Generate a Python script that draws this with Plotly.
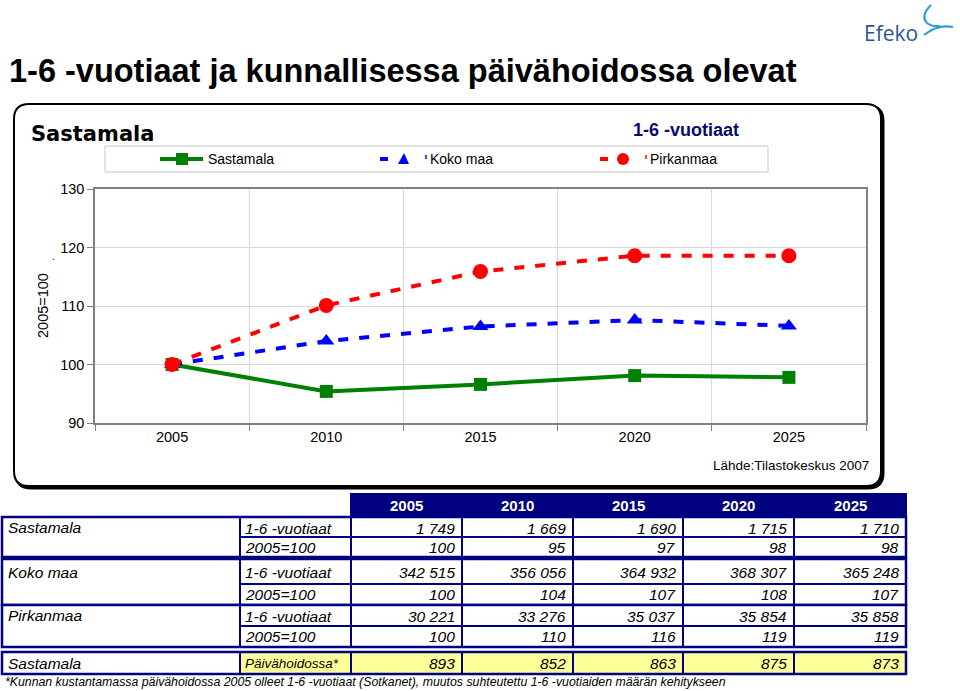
import plotly.graph_objects as go

# ---------------- data ----------------
years = ["2005", "2010", "2015", "2020", "2025"]
sastamala_idx = [100, 95.4, 96.6, 98.1, 97.8]
koko_idx = [100, 104.0, 106.5, 107.6, 106.6]
pirkanmaa_idx = [100, 110.1, 115.9, 118.6, 118.6]

sastamala_n = [1749, 1669, 1690, 1715, 1710]
sastamala_tab = [100, 95, 97, 98, 98]
koko_n = [342515, 356056, 364932, 368307, 365248]
koko_tab = [100, 104, 107, 108, 107]
pirk_n = [30221, 33276, 35037, 35854, 35858]
pirk_tab = [100, 110, 116, 119, 119]
paiva_n = [893, 852, 863, 875, 873]

series_names = ["Sastamala", "Koko maa", "Pirkanmaa"]
y_ticks = [90, 100, 110, 120, 130]

W, H = 960, 691
FONT = "Liberation Sans, Arial, sans-serif"


def px(x):
    return x / W


def py(y):
    return 1 - y / H


def fmt(v):
    return f"{v:,}".replace(",", " ")


fig = go.Figure()

GREEN, BLUE, RED = "#008000", "#0000FF", "#FF0000"

fig.add_trace(go.Scatter(x=years, y=sastamala_idx, name=series_names[0], mode="lines+markers",
                         line=dict(color=GREEN, width=4),
                         marker=dict(symbol="square", size=13, color=GREEN)))
fig.add_trace(go.Scatter(x=years, y=koko_idx, name=series_names[1], mode="lines+markers",
                         line=dict(color=BLUE, width=4, dash="10px,11px"),
                         marker=dict(symbol="triangle-up", size=14, color=BLUE)))
fig.add_trace(go.Scatter(x=years, y=pirkanmaa_idx, name=series_names[2], mode="lines+markers",
                         line=dict(color=RED, width=4, dash="10px,11px"),
                         marker=dict(symbol="circle", size=15, color=RED)))

shapes = []
ann = []


def rounded_path(x0, y0, x1, y1, r):
    pts = [
        f"M {px(x0 + r)},{py(y0)}",
        f"L {px(x1 - r)},{py(y0)}",
        f"Q {px(x1)},{py(y0)} {px(x1)},{py(y0 + r)}",
        f"L {px(x1)},{py(y1 - r)}",
        f"Q {px(x1)},{py(y1)} {px(x1 - r)},{py(y1)}",
        f"L {px(x0 + r)},{py(y1)}",
        f"Q {px(x0)},{py(y1)} {px(x0)},{py(y1 - r)}",
        f"L {px(x0)},{py(y0 + r)}",
        f"Q {px(x0)},{py(y0)} {px(x0 + r)},{py(y0)}",
        "Z",
    ]
    return " ".join(pts)


# chart frame with shadow
shapes.append(dict(type="path", xref="paper", yref="paper", layer="below",
                   path=rounded_path(16, 106, 883, 488, 15),
                   line=dict(color="black", width=3), fillcolor="black"))
shapes.append(dict(type="path", xref="paper", yref="paper", layer="below",
                   path=rounded_path(14, 104, 881, 486, 15),
                   line=dict(color="black", width=2), fillcolor="white"))

# legend box
shapes.append(dict(type="rect", xref="paper", yref="paper",
                   x0=px(105), x1=px(768), y0=py(146), y1=py(172),
                   line=dict(color="#c8c8c8", width=1), fillcolor="rgba(0,0,0,0)"))
ly = 159
# Sastamala
shapes.append(dict(type="line", xref="paper", yref="paper", x0=px(160), x1=px(203), y0=py(ly), y1=py(ly),
                   line=dict(color=GREEN, width=4)))
shapes.append(dict(type="rect", xref="paper", yref="paper", x0=px(176), x1=px(188), y0=py(ly - 6), y1=py(ly + 6),
                   line=dict(color=GREEN, width=0), fillcolor=GREEN))
# Koko maa
shapes.append(dict(type="line", xref="paper", yref="paper", x0=px(380), x1=px(388), y0=py(ly), y1=py(ly),
                   line=dict(color=BLUE, width=4)))
shapes.append(dict(type="path", xref="paper", yref="paper",
                   path=f"M {px(398)},{py(ly + 5)} L {px(404)},{py(ly - 6)} L {px(409)},{py(ly + 5)} Z",
                   line=dict(color=BLUE, width=0), fillcolor=BLUE))
shapes.append(dict(type="line", xref="paper", yref="paper", x0=px(426), x1=px(426), y0=py(ly - 4), y1=py(ly),
                   line=dict(color=BLUE, width=1.5)))
# Pirkanmaa
shapes.append(dict(type="line", xref="paper", yref="paper", x0=px(600), x1=px(608), y0=py(ly), y1=py(ly),
                   line=dict(color=RED, width=4)))
shapes.append(dict(type="circle", xref="paper", yref="paper", x0=px(617), x1=px(629), y0=py(ly - 6), y1=py(ly + 6),
                   line=dict(color=RED, width=0), fillcolor=RED))
shapes.append(dict(type="line", xref="paper", yref="paper", x0=px(646), x1=px(646), y0=py(ly - 4), y1=py(ly),
                   line=dict(color=RED, width=1.5)))

for xx, txt in [(206, series_names[0]), (428, series_names[1]), (648, series_names[2])]:
    ann.append(dict(x=px(xx), y=py(ly), xref="paper", yref="paper", text=txt, showarrow=False,
                    xanchor="left", yanchor="middle", font=dict(family=FONT, size=14, color="black")))

# titles
ann.append(dict(x=px(7), y=py(71), xref="paper", yref="paper",
                text="<b>1-6 -vuotiaat ja kunnallisessa päivähoidossa olevat</b>", showarrow=False,
                xanchor="left", yanchor="middle", font=dict(family=FONT, size=32.5, color="black")))
ann.append(dict(x=px(29), y=py(134), xref="paper", yref="paper",
                text="<b>Sastamala</b>", showarrow=False,
                xanchor="left", yanchor="middle", font=dict(family="DejaVu Sans, sans-serif", size=21, color="black")))
ann.append(dict(x=px(686), y=py(130), xref="paper", yref="paper",
                text="<b>1-6 -vuotiaat</b>", showarrow=False,
                xanchor="center", yanchor="middle", font=dict(family=FONT, size=18, color="#0a0a6e")))
ann.append(dict(x=px(871), y=py(465), xref="paper", yref="paper",
                text="Lähde:Tilastokeskus 2007", showarrow=False,
                xanchor="right", yanchor="middle", font=dict(family=FONT, size=13.5, color="black")))
ann.append(dict(x=px(43), y=py(306), xref="paper", yref="paper", textangle=-90,
                text="2005=100", showarrow=False,
                xanchor="center", yanchor="middle", font=dict(family=FONT, size=14.5, color="black")))
ann.append(dict(x=px(53), y=py(256), xref="paper", yref="paper",
                text=".", showarrow=False,
                xanchor="center", yanchor="middle", font=dict(family=FONT, size=10, color="black")))

# logo
ann.append(dict(x=px(862), y=py(33), xref="paper", yref="paper",
                text="Efeko", showarrow=False,
                xanchor="left", yanchor="middle", font=dict(family="Open Sans, sans-serif", size=21, color="#2a5590")))
shapes.append(dict(type="path", xref="paper", yref="paper",
                   path=f"M {px(931)},{py(5)} Q {px(920)},{py(16)} {px(927)},{py(23)} Q {px(932)},{py(27)} {px(940)},{py(26)}",
                   line=dict(color="#2f9fd3", width=2.2)))
shapes.append(dict(type="path", xref="paper", yref="paper",
                   path=f"M {px(924)},{py(35)} Q {px(938)},{py(24)} {px(953)},{py(27)}",
                   line=dict(color="#2f9fd3", width=2.2)))

# ---------------- table ----------------
NAVY = "#000080"
YELLOW = "#FFFF99"
col_edges = [351, 462, 573, 683, 794, 906]
LBL0, LBL1 = 2, 240
TXT = 15.5


def cell(x0, x1, y0, y1, fill="white", lw=2):
    shapes.append(dict(type="rect", xref="paper", yref="paper", x0=px(x0), x1=px(x1), y0=py(y0), y1=py(y1),
                       line=dict(color=NAVY, width=lw), fillcolor=fill))


def text(x, y, s, anchor="left", size=TXT, color="black", italic=True, bold=False):
    t = s
    if italic:
        t = f"<i>{t}</i>"
    if bold:
        t = f"<b>{t}</b>"
    ann.append(dict(x=px(x), y=py(y), xref="paper", yref="paper", text=t, showarrow=False,
                    xanchor=anchor, yanchor="middle", font=dict(family=FONT, size=size, color=color)))


# header
cell(col_edges[0], col_edges[-1], 494, 516, fill=NAVY)
for i, yr in enumerate(years):
    text((col_edges[i] + col_edges[i + 1]) / 2, 505, yr, anchor="center", size=15, color="white",
         italic=False, bold=True)

groups = [
    ("Sastamala", 517, 537, 557, sastamala_n, sastamala_tab),
    ("Koko maa", 559, 584, 605, koko_n, koko_tab),
    ("Pirkanmaa", 605, 626, 647, pirk_n, pirk_tab),
]
for name, top, mid, bot, nvals, ivals in groups:
    cell(LBL0, LBL1, top, bot)
    label_y = top + 10 if name != "Koko maa" else top + 13
    text(LBL0 + 4, label_y, name)
    cell(LBL1, col_edges[0], top, mid)
    cell(LBL1, col_edges[0], mid, bot)
    text(LBL1 + 3, (top + mid) / 2 + 1, "1-6 -vuotiaat")
    text(LBL1 + 3, (mid + bot) / 2, "2005=100")
    for i in range(5):
        cell(col_edges[i], col_edges[i + 1], top, mid)
        cell(col_edges[i], col_edges[i + 1], mid, bot)
        text(col_edges[i + 1] - 5, (top + mid) / 2 + 1, fmt(nvals[i]), anchor="right")
        text(col_edges[i + 1] - 5, (mid + bot) / 2, fmt(ivals[i]), anchor="right")
    shapes.append(dict(type="rect", xref="paper", yref="paper", x0=px(LBL0), x1=px(col_edges[-1]),
                       y0=py(top), y1=py(bot), line=dict(color=NAVY, width=2.5), fillcolor="rgba(0,0,0,0)"))

# daycare row
ptop, pbot = 652, 674
cell(LBL0, LBL1, ptop, pbot)
text(LBL0 + 4, (ptop + pbot) / 2, "Sastamala")
cell(LBL1, col_edges[0], ptop, pbot, fill=YELLOW)
text(LBL1 + 3, (ptop + pbot) / 2, "Päivähoidossa*", size=13.5)
for i in range(5):
    cell(col_edges[i], col_edges[i + 1], ptop, pbot, fill=YELLOW)
    text(col_edges[i + 1] - 5, (ptop + pbot) / 2, fmt(paiva_n[i]), anchor="right")
shapes.append(dict(type="rect", xref="paper", yref="paper", x0=px(LBL0), x1=px(col_edges[-1]),
                   y0=py(ptop), y1=py(pbot), line=dict(color=NAVY, width=2.5), fillcolor="rgba(0,0,0,0)"))

text(3, 682, "*Kunnan kustantamassa päivähoidossa 2005 olleet 1-6 -vuotiaat (Sotkanet), muutos suhteutettu "
             "1-6 -vuotiaiden määrän kehitykseen", size=12.3)

fig.update_layout(
    width=W, height=H, autosize=False,
    margin=dict(l=0, r=0, t=0, b=0, pad=0, autoexpand=False),
    paper_bgcolor="white", plot_bgcolor="rgba(0,0,0,0)",
    showlegend=False,
    shapes=shapes, annotations=ann,
    font=dict(family=FONT, size=14.5, color="black"),
    xaxis=dict(domain=[px(95), px(866)], type="category", range=[-0.5, 4.5], automargin=False,
               tickson="boundaries", ticks="outside", ticklen=6, tickcolor="#808080",
               showgrid=True, gridcolor="#d9d9d9", gridwidth=1,
               showline=True, linecolor="#808080", linewidth=1.5, mirror=True,
               tickfont=dict(family=FONT, size=14.5, color="black"), zeroline=False),
    yaxis=dict(domain=[py(423), py(189)], range=[90, 130], tickvals=y_ticks, automargin=False,
               ticks="outside", ticklen=6, tickcolor="#808080",
               showgrid=True, gridcolor="#d9d9d9", gridwidth=1,
               showline=True, linecolor="#808080", linewidth=1.5, mirror=True,
               tickfont=dict(family=FONT, size=14.5, color="black"), zeroline=False),
)

fig.write_html("out.html",
               post_script="document.body.style.margin='0';document.body.style.overflow='hidden';",
               config={"displayModeBar": False})
